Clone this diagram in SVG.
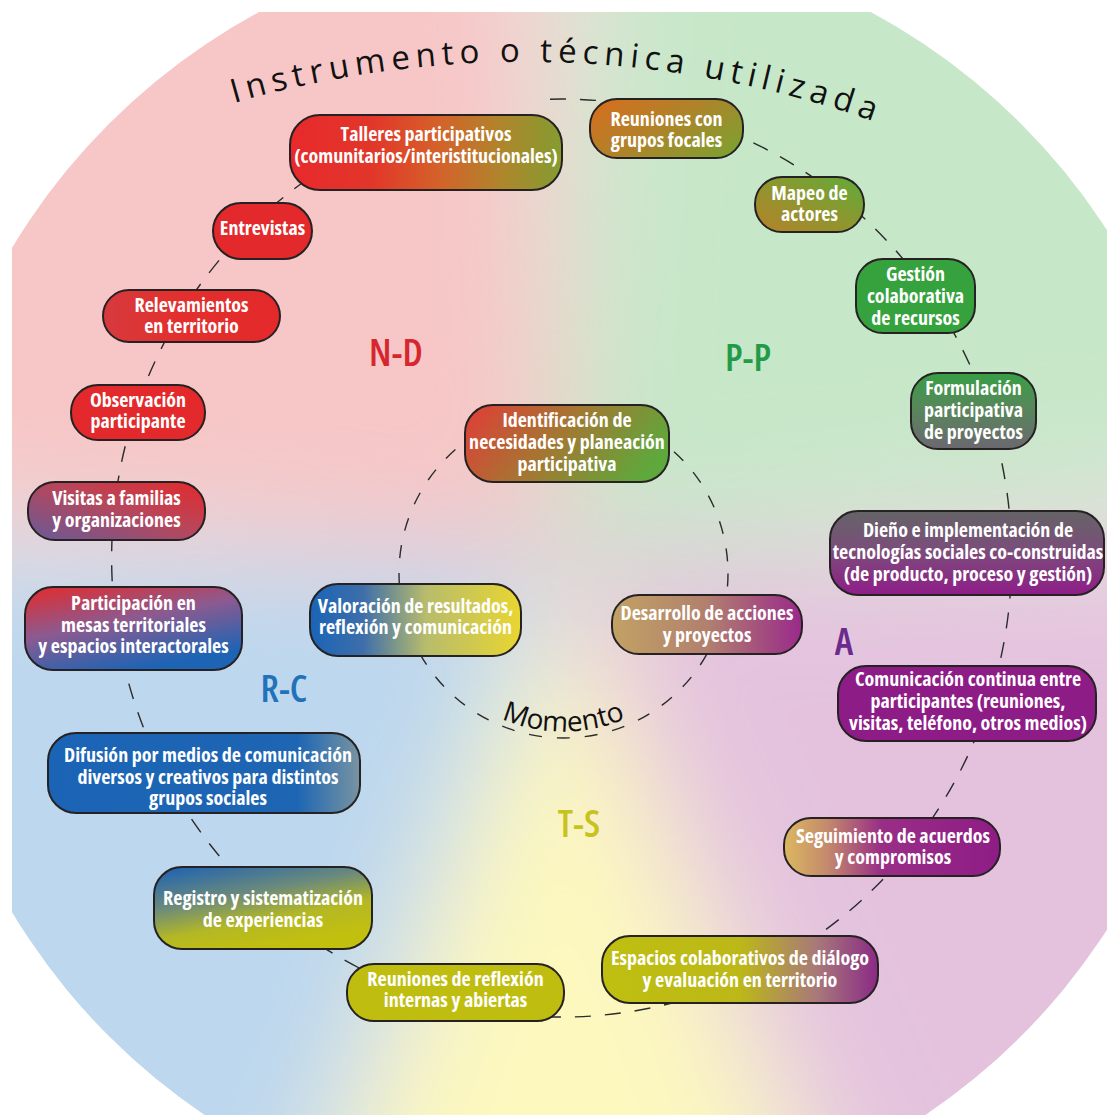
<svg xmlns="http://www.w3.org/2000/svg" width="1107" height="1115" viewBox="0 0 1107 1115">
<defs>
<style>
.box{stroke:#262223;stroke-width:2}
.nt{font-family:"Open Sans","DejaVu Sans",sans-serif;font-stretch:76%;font-weight:700;font-size:20px;fill:#fff;text-anchor:middle}
.lbl{font-family:"Open Sans","DejaVu Sans",sans-serif;font-stretch:80%;font-weight:600;font-size:38px;text-anchor:middle}
.arc{font-family:"Open Sans","DejaVu Sans",sans-serif;font-weight:400;fill:#111}
.ring{fill:none;stroke:#2b2b2b;stroke-width:1.4}
</style>
<filter id="soft" filterUnits="userSpaceOnUse" x="-300" y="-300" width="1800" height="1800">
<feGaussianBlur stdDeviation="60"/>
</filter>
<clipPath id="disc"><circle cx="565" cy="580" r="645"/></clipPath>
<clipPath id="frame"><rect x="12" y="12" width="1200" height="1200"/></clipPath>
<path id="titlePath" d="M234,103 A1050,1050 0 0 1 905,133"/>
<path id="momentPath" d="M405.5,573.5 A158,158 0 0 0 721.5,573.5"/>
<linearGradient id="gTalleres" x1="0" y1="0" x2="1" y2="0">
<stop offset="0" stop-color="#e8292c"/><stop offset="0.3" stop-color="#e2362a"/><stop offset="0.55" stop-color="#d4622a"/><stop offset="0.78" stop-color="#ae862c"/><stop offset="1" stop-color="#849c30"/>
</linearGradient>
<linearGradient id="gFocales" x1="0" y1="0.2" x2="1" y2="0.8">
<stop offset="0" stop-color="#d2701f"/><stop offset="0.45" stop-color="#b0822a"/><stop offset="1" stop-color="#7fa030"/>
</linearGradient>
<linearGradient id="gMapeo" x1="0" y1="1" x2="1" y2="0">
<stop offset="0" stop-color="#b4822a"/><stop offset="0.5" stop-color="#8e962e"/><stop offset="1" stop-color="#5fab3a"/>
</linearGradient>
<linearGradient id="gFormul" x1="0" y1="0" x2="0" y2="1">
<stop offset="0" stop-color="#379f45"/><stop offset="0.45" stop-color="#57875a"/><stop offset="1" stop-color="#6c6870"/>
</linearGradient>
<linearGradient id="gDiseno" x1="0" y1="0" x2="0" y2="1">
<stop offset="0" stop-color="#646466"/><stop offset="0.45" stop-color="#7a4e7a"/><stop offset="1" stop-color="#8f1d88"/>
</linearGradient>
<linearGradient id="gSegui" x1="0" y1="0" x2="1" y2="0">
<stop offset="0" stop-color="#dcb860"/><stop offset="0.2" stop-color="#c48a6c"/><stop offset="0.45" stop-color="#992e86"/><stop offset="1" stop-color="#8e1c86"/>
</linearGradient>
<linearGradient id="gEspacios" x1="0" y1="0" x2="1" y2="0">
<stop offset="0" stop-color="#bfbf10"/><stop offset="0.5" stop-color="#bcb818"/><stop offset="0.78" stop-color="#a8787a"/><stop offset="1" stop-color="#8a2a86"/>
</linearGradient>
<linearGradient id="gRegistro" x1="0.05" y1="0" x2="0.55" y2="1">
<stop offset="0" stop-color="#1d62b2"/><stop offset="0.4" stop-color="#6b8a7c"/><stop offset="0.7" stop-color="#b4b824"/><stop offset="1" stop-color="#c2c00e"/>
</linearGradient>
<linearGradient id="gDifusion" x1="0" y1="0" x2="1" y2="0">
<stop offset="0" stop-color="#1b63b5"/><stop offset="0.8" stop-color="#1e66b3"/><stop offset="1" stop-color="#7894a2"/>
</linearGradient>
<linearGradient id="gParticip" x1="0" y1="0" x2="0.5" y2="1">
<stop offset="0" stop-color="#e52a2a"/><stop offset="0.5" stop-color="#8c5a90"/><stop offset="1" stop-color="#1d64b4"/>
</linearGradient>
<linearGradient id="gVisitas" x1="1" y1="0" x2="0" y2="1">
<stop offset="0" stop-color="#e4292b"/><stop offset="0.45" stop-color="#b8465a"/><stop offset="1" stop-color="#675a98"/>
</linearGradient>
<linearGradient id="gRelev" x1="0" y1="0" x2="1" y2="0">
<stop offset="0" stop-color="#d63a3e"/><stop offset="0.4" stop-color="#e2302e"/><stop offset="1" stop-color="#e4292b"/>
</linearGradient>
<linearGradient id="gIdent" x1="0" y1="0.2" x2="1" y2="0.5">
<stop offset="0" stop-color="#dc4236"/><stop offset="0.5" stop-color="#a07a32"/><stop offset="1" stop-color="#5ea83c"/>
</linearGradient>
<linearGradient id="gValor" x1="0" y1="0" x2="1" y2="0">
<stop offset="0" stop-color="#1a64b6"/><stop offset="0.25" stop-color="#3d6eaa"/><stop offset="0.55" stop-color="#b8bc6c"/><stop offset="1" stop-color="#e8d630"/>
</linearGradient>
<linearGradient id="gDesarr" x1="0" y1="0" x2="1" y2="0">
<stop offset="0" stop-color="#c2a264"/><stop offset="0.5" stop-color="#b1806e"/><stop offset="1" stop-color="#9a2a8a"/>
</linearGradient>
</defs>

<rect width="1107" height="1115" fill="#fff"/>

<!-- soft colour field -->
<g clip-path="url(#frame)">
<g clip-path="url(#disc)">
<rect x="0" y="0" width="1107" height="1115" fill="#ece6e2"/>
<g filter="url(#soft)">
<polygon points="560,560 520,-200 -200,-200 -200,500" fill="#f7c6c6"/>
<polygon points="560,560 600,-200 1300,-200 1300,480" fill="#c7e7c9"/>
<polygon points="560,560 1300,560 1300,1300 880,1300" fill="#e4c2de"/>
<polygon points="560,580 840,1300 300,1300" fill="#fdf8be"/>
<polygon points="560,560 270,1300 -200,1300 -200,560" fill="#bcd7ee"/>
</g>
</g>
</g>

<!-- dashed connectors between consecutive nodes -->
<g id="connectors">
<path class="ring" d="M550,99.2 A450,459 0 1 1 305,181" stroke-dasharray="16 14"/>
<circle class="ring" cx="563.5" cy="573.5" r="164.5" stroke-dasharray="13 15"/>
</g>

<!-- outer ring: instruments and techniques -->
<g id="n-talleres"><rect class="box" x="290" y="115" width="272" height="75" rx="30" fill="url(#gTalleres)"/>
<text class="nt"><tspan x="426" y="141">Talleres participativos</tspan><tspan x="426" y="163">(comunitarios/interistitucionales)</tspan></text></g>
<g id="n-focales"><rect class="box" x="590" y="99" width="153" height="59" rx="27" fill="url(#gFocales)"/>
<text class="nt"><tspan x="666.5" y="126">Reuniones con</tspan><tspan x="666.5" y="147">grupos focales</tspan></text></g>
<g id="n-mapeo"><rect class="box" x="755" y="177" width="109" height="55" rx="27" fill="url(#gMapeo)"/>
<text class="nt"><tspan x="809.5" y="200">Mapeo de</tspan><tspan x="809.5" y="221">actores</tspan></text></g>
<g id="n-gestion"><rect class="box" x="856" y="259" width="119" height="74" rx="27" fill="#36a23d"/>
<text class="nt"><tspan x="915.5" y="281">Gestión</tspan><tspan x="915.5" y="303">colaborativa</tspan><tspan x="915.5" y="325">de recursos</tspan></text></g>
<g id="n-formulacion"><rect class="box" x="911" y="373" width="125" height="76" rx="27" fill="url(#gFormul)"/>
<text class="nt"><tspan x="973.5" y="395">Formulación</tspan><tspan x="973.5" y="417">participativa</tspan><tspan x="973.5" y="439">de proyectos</tspan></text></g>
<g id="n-diseno"><rect class="box" x="830" y="511" width="274" height="84" rx="28" fill="url(#gDiseno)"/>
<text class="nt"><tspan x="968" y="537">Dieño e implementación de</tspan><tspan x="968" y="559">tecnologías sociales co-construidas</tspan><tspan x="968" y="581">(de producto, proceso y gestión)</tspan></text></g>
<g id="n-comunicacion"><rect class="box" x="838" y="666" width="258" height="75" rx="28" fill="#8e1c86"/>
<text class="nt"><tspan x="968" y="686">Comunicación continua entre</tspan><tspan x="968" y="708">participantes (reuniones,</tspan><tspan x="968" y="730">visitas, teléfono, otros medios)</tspan></text></g>
<g id="n-seguimiento"><rect class="box" x="784" y="818" width="216" height="58" rx="27" fill="url(#gSegui)"/>
<text class="nt"><tspan x="893" y="843">Seguimiento de acuerdos</tspan><tspan x="893" y="864">y compromisos</tspan></text></g>
<g id="n-espacios"><rect class="box" x="602" y="936" width="276" height="67" rx="28" fill="url(#gEspacios)"/>
<text class="nt"><tspan x="740" y="965">Espacios colaborativos de diálogo</tspan><tspan x="740" y="987">y evaluación en territorio</tspan></text></g>
<g id="n-reflexion"><rect class="box" x="347" y="964" width="217" height="57" rx="27" fill="#bfbe10"/>
<text class="nt"><tspan x="455.5" y="986">Reuniones de reflexión</tspan><tspan x="455.5" y="1007">internas y abiertas</tspan></text></g>
<g id="n-registro"><rect class="box" x="154" y="867" width="218" height="82" rx="28" fill="url(#gRegistro)"/>
<text class="nt"><tspan x="263" y="905">Registro y sistematización</tspan><tspan x="263" y="927">de experiencias</tspan></text></g>
<g id="n-difusion"><rect class="box" x="48" y="733" width="312" height="80" rx="28" fill="url(#gDifusion)"/>
<text class="nt"><tspan x="208" y="762">Difusión por medios de comunicación</tspan><tspan x="208" y="784">diversos y creativos para distintos</tspan><tspan x="208" y="805">grupos sociales</tspan></text></g>
<g id="n-participacion"><rect class="box" x="25" y="587" width="217" height="83" rx="28" fill="url(#gParticip)"/>
<text class="nt"><tspan x="133.5" y="610">Participación en</tspan><tspan x="133.5" y="632">mesas territoriales</tspan><tspan x="133.5" y="653">y espacios interactorales</tspan></text></g>
<g id="n-visitas"><rect class="box" x="28" y="482" width="177" height="58" rx="27" fill="url(#gVisitas)"/>
<text class="nt"><tspan x="116.5" y="505">Visitas a familias</tspan><tspan x="116.5" y="527">y organizaciones</tspan></text></g>
<g id="n-observacion"><rect class="box" x="71" y="385" width="134" height="55" rx="27" fill="#e3292b"/>
<text class="nt"><tspan x="138" y="407">Observación</tspan><tspan x="138" y="428">participante</tspan></text></g>
<g id="n-relevamientos"><rect class="box" x="103" y="290" width="177" height="52" rx="26" fill="url(#gRelev)"/>
<text class="nt"><tspan x="191.5" y="312">Relevamientos</tspan><tspan x="191.5" y="333">en territorio</tspan></text></g>
<g id="n-entrevistas"><rect class="box" x="213" y="203" width="99" height="56" rx="28" fill="#e3292b"/>
<text class="nt"><tspan x="262.5" y="235">Entrevistas</tspan></text></g>

<!-- inner ring: moments -->
<g id="m-identificacion"><rect class="box" x="465" y="405" width="204" height="77" rx="28" fill="url(#gIdent)"/>
<text class="nt"><tspan x="567" y="427">Identificación de</tspan><tspan x="567" y="449">necesidades y planeación</tspan><tspan x="567" y="471">participativa</tspan></text></g>
<g id="m-valoracion"><rect class="box" x="310" y="584" width="211" height="72" rx="28" fill="url(#gValor)"/>
<text class="nt"><tspan x="415.5" y="613">Valoración de resultados,</tspan><tspan x="415.5" y="634">reflexión y comunicación</tspan></text></g>
<g id="m-desarrollo"><rect class="box" x="612" y="595" width="190" height="59" rx="27" fill="url(#gDesarr)"/>
<text class="nt"><tspan x="707" y="620">Desarrollo de acciones</tspan><tspan x="707" y="642">y proyectos</tspan></text></g>

<!-- sector labels -->
<g id="labels">
<text class="lbl" x="396" y="366" fill="#d6262e">N-D</text>
<text class="lbl" x="748" y="371" fill="#239a48">P-P</text>
<text class="lbl" x="844" y="655" fill="#6a2b8c">A</text>
<text class="lbl" x="284" y="702" fill="#2272b9">R-C</text>
<text class="lbl" x="579" y="837" fill="#c8c21e">T-S</text>
</g>

<!-- curved captions -->
<text class="arc" font-size="33" letter-spacing="5.8"><textPath href="#titlePath">Instrumento o técnica utilizada</textPath></text>
<text class="arc" font-size="28" text-anchor="middle"><textPath href="#momentPath" startOffset="50%">Momento</textPath></text>
</svg>
